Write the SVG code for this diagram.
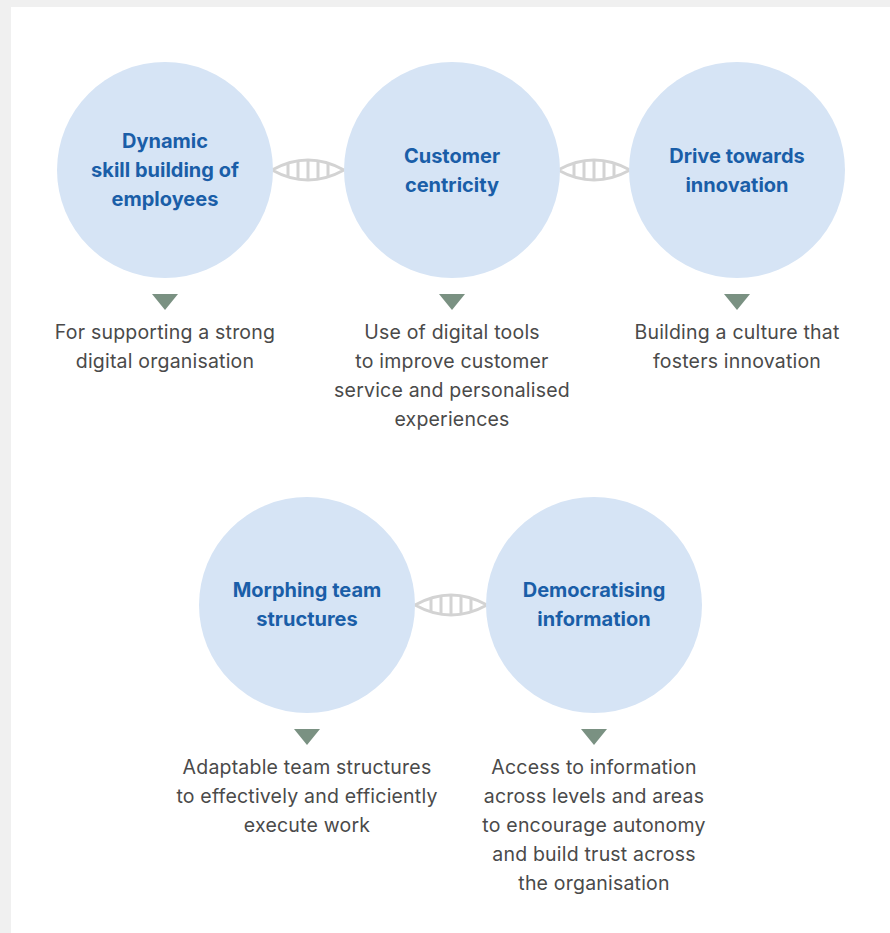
<svg xmlns="http://www.w3.org/2000/svg" width="890" height="933" viewBox="0 0 890 933">
  <defs>
    <style>
      .pillar { fill: #d6e4f5; }
      .title { font-family: Inter, "Liberation Sans", sans-serif; font-weight: 700; font-size: 20px; fill: #1a5ea8; text-anchor: middle; }
      .desc { font-family: Inter, "Liberation Sans", sans-serif; font-weight: 400; font-size: 19.5px; fill: #4a4a4a; text-anchor: middle; letter-spacing: 0.2px; }
      .pointer { fill: #7a9182; }
      .link { fill: none; stroke: #d3d3d3; stroke-width: 3; }
    </style>
    <!-- lens-shaped ladder link, centred on the origin -->
    <g id="ladder">
      <path class="link" d="M-36,0 Q0,-20 36,0 Q0,20 -36,0 Z"/>
      <path class="link" d="M-20,-7 V7 M-10,-9 V9 M0,-10 V10 M10,-9 V9 M20,-7 V7"/>
    </g>
  </defs>

  <rect x="0" y="0" width="890" height="933" fill="#f0f0f0"/>
  <rect x="11" y="7" width="879" height="926" fill="#ffffff"/>

  <g id="connectors">
    <use href="#ladder" x="308" y="170"/>
    <use href="#ladder" x="594" y="170"/>
    <use href="#ladder" x="451" y="605"/>
  </g>

  <g id="skill-building">
    <circle class="pillar" cx="165" cy="170" r="108"/>
    <text class="title" x="165" y="148">Dynamic</text>
    <text class="title" x="165" y="177">skill building of</text>
    <text class="title" x="165" y="206">employees</text>
    <path class="pointer" d="M152,294 H178 L165,310 Z"/>
    <text class="desc" x="165" y="339">For supporting a strong</text>
    <text class="desc" x="165" y="368">digital organisation</text>
  </g>

  <g id="customer-centricity">
    <circle class="pillar" cx="452" cy="170" r="108"/>
    <text class="title" x="452" y="163">Customer</text>
    <text class="title" x="452" y="192">centricity</text>
    <path class="pointer" d="M439,294 H465 L452,310 Z"/>
    <text class="desc" x="452" y="339">Use of digital tools</text>
    <text class="desc" x="452" y="368">to improve customer</text>
    <text class="desc" x="452" y="397">service and personalised</text>
    <text class="desc" x="452" y="426">experiences</text>
  </g>

  <g id="innovation">
    <circle class="pillar" cx="737" cy="170" r="108"/>
    <text class="title" x="737" y="163">Drive towards</text>
    <text class="title" x="737" y="192">innovation</text>
    <path class="pointer" d="M724,294 H750 L737,310 Z"/>
    <text class="desc" x="737" y="339">Building a culture that</text>
    <text class="desc" x="737" y="368">fosters innovation</text>
  </g>

  <g id="team-structures">
    <circle class="pillar" cx="307" cy="605" r="108"/>
    <text class="title" x="307" y="597">Morphing team</text>
    <text class="title" x="307" y="626">structures</text>
    <path class="pointer" d="M294,729 H320 L307,745 Z"/>
    <text class="desc" x="307" y="774">Adaptable team structures</text>
    <text class="desc" x="307" y="803">to effectively and efficiently</text>
    <text class="desc" x="307" y="832">execute work</text>
  </g>

  <g id="democratising-information">
    <circle class="pillar" cx="594" cy="605" r="108"/>
    <text class="title" x="594" y="597">Democratising</text>
    <text class="title" x="594" y="626">information</text>
    <path class="pointer" d="M581,729 H607 L594,745 Z"/>
    <text class="desc" x="594" y="774">Access to information</text>
    <text class="desc" x="594" y="803">across levels and areas</text>
    <text class="desc" x="594" y="832">to encourage autonomy</text>
    <text class="desc" x="594" y="861">and build trust across</text>
    <text class="desc" x="594" y="890">the organisation</text>
  </g>
</svg>
